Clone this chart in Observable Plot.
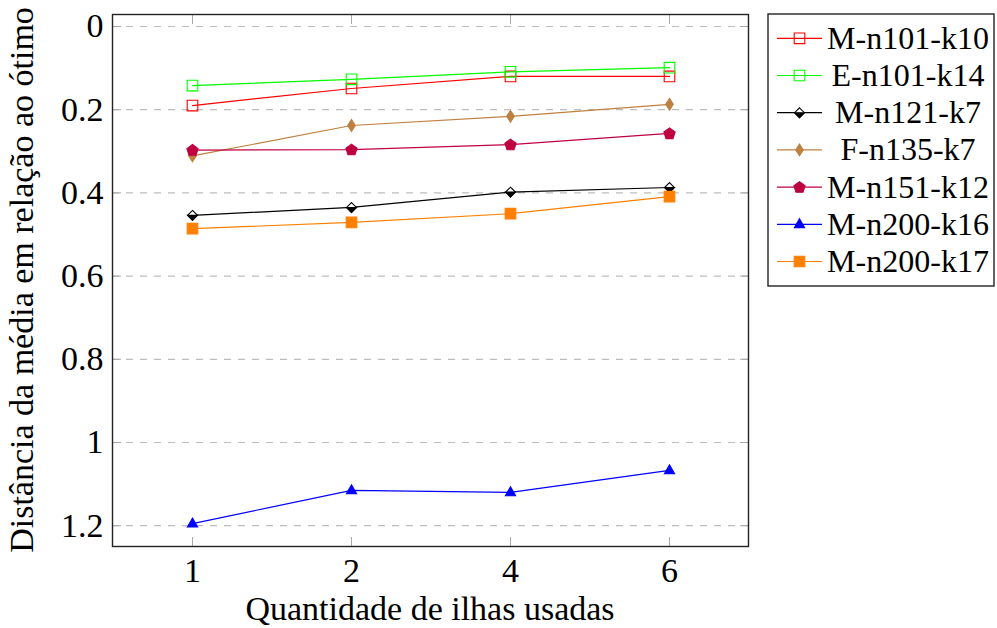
<!DOCTYPE html>
<html>
<head>
<meta charset="utf-8">
<script src="https://cdn.jsdelivr.net/npm/d3@7"></script>
<script src="https://cdn.jsdelivr.net/npm/@observablehq/plot@0.6"></script>
<style>
  html, body { margin: 0; padding: 0; background: #fff; }
  #chart { position: relative; width: 997px; height: 628px; }
  #chart svg, #chart svg text { font-family: "Liberation Serif", "Times New Roman", Times, Tinos, "DejaVu Serif", "Noto Serif", serif !important; }
</style>
</head>
<body>
<div id="chart"></div>
<script>
// ---- data ----
const xLabels = ["1", "2", "4", "6"];
const yTicks = [0, 0.2, 0.4, 0.6, 0.8, 1, 1.2];
const seriesNames = ["M-n101-k10", "E-n101-k14", "M-n121-k7", "F-n135-k7", "M-n151-k12", "M-n200-k16", "M-n200-k17"];
const mn101k10 = [0.190, 0.149, 0.120, 0.120];
const en101k14 = [0.142, 0.127, 0.109, 0.099];
const mn121k7  = [0.454, 0.435, 0.398, 0.387];
const fn135k7  = [0.311, 0.238, 0.216, 0.187];
const mn151k12 = [0.297, 0.296, 0.284, 0.257];
const mn200k16 = [1.195, 1.115, 1.120, 1.067];
const mn200k17 = [0.486, 0.471, 0.450, 0.409];
const xTitle = "Quantidade de ilhas usadas";
const yTitle = "Distância da média em relação ao ótimo";

// ---- styles ----
const FONT = "\"Liberation Serif\", \"Times New Roman\", Times, Tinos, \"DejaVu Serif\", serif";
function poly(pts) {
  return { draw(ctx) { ctx.moveTo(pts[0][0], pts[0][1]); for (let i = 1; i < pts.length; i++) ctx.lineTo(pts[i][0], pts[i][1]); ctx.closePath(); } };
}
const S = 5.3;
const squareSym = poly([[-S, -S], [S, -S], [S, S], [-S, S]]);
const pentSym = poly(d3.range(5).map(k => { const a = (-90 + 72 * k) * Math.PI / 180; return [5.9 * Math.cos(a), 5.9 * Math.sin(a) + 0.4]; }));
const triSym = poly([[0, -5.6], [5.1, 3.3], [-5.1, 3.3]]);
const tallDiamond = poly([[0, -5.9], [3.8, 0], [0, 5.9], [-3.8, 0]]);
const diamondSym = poly([[0, -4.9], [4.9, 0], [0, 4.9], [-4.9, 0]]);
const halfDiamondLow = poly([[-4.9, 0], [4.9, 0], [0, 4.9]]);

const styles = [
  { color: "#ff0000", marks: [{ symbol: squareSym, fill: "none", stroke: "#ff0000" }] },
  { color: "#00ff00", marks: [{ symbol: squareSym, fill: "none", stroke: "#00ff00" }] },
  { color: "#000000", marks: [{ symbol: diamondSym, fill: "#ffffff", stroke: "#000000" }, { symbol: halfDiamondLow, fill: "#000000", stroke: "#000000" }] },
  { color: "#bf8040", marks: [{ symbol: tallDiamond, fill: "#bf8040", stroke: "#bf8040" }] },
  { color: "#bf0040", marks: [{ symbol: pentSym, fill: "#bf0040", stroke: "#bf0040" }] },
  { color: "#0000ff", marks: [{ symbol: triSym, fill: "#0000ff", stroke: "#0000ff" }] },
  { color: "#ff8000", marks: [{ symbol: squareSym, fill: "#ff8000", stroke: "#ff8000" }] }
];
const seriesValues = [mn101k10, en101k14, mn121k7, fn135k7, mn151k12, mn200k16, mn200k17];

const seriesMarks = [];
seriesValues.forEach((vals, i) => {
  const rows = xLabels.map((x, j) => ({ x, y: vals[j] }));
  seriesMarks.push(Plot.line(rows, { x: "x", y: "y", stroke: styles[i].color, strokeWidth: 1.2 }));
  styles[i].marks.forEach(m => {
    seriesMarks.push(Plot.dot(rows, { x: "x", y: "y", r: 5, symbol: m.symbol, fill: m.fill, stroke: m.stroke, strokeWidth: 1.1 }));
  });
});

const W = 997, H = 628;
const mL = 112, mT = 14, mR = W - 748, mB = H - 546;
// 0 at y=26, 1.2 at y=525.2 -> 416 px per unit
const yMin = -(26 - mT) / 416, yMax = (546 - 26) / 416;

const chart = Plot.plot({
  width: W,
  height: H,
  marginLeft: mL, marginTop: mT, marginRight: mR, marginBottom: mB,
  style: { fontFamily: FONT, fontSize: "34px", background: "#fff", color: "#000", overflow: "visible" },
  x: { type: "point", domain: xLabels, padding: 0.5, label: null },
  y: { domain: [yMin, yMax], reverse: true, label: null },
  marks: [
    Plot.ruleY(yTicks, { stroke: "#bdbdbd", strokeWidth: 1.2, strokeDasharray: "7,7" }),
    Plot.axisX(xLabels, { anchor: "bottom", tickSize: -9, fill: "none", stroke: "#a8a8a8", label: null }),
    Plot.axisX(xLabels, { anchor: "top", tickSize: -9, fill: "none", stroke: "#a8a8a8", label: null }),
    Plot.axisY(yTicks, { anchor: "left", tickSize: -9, fill: "none", stroke: "#a8a8a8", label: null }),
    Plot.axisY(yTicks, { anchor: "right", tickSize: -9, fill: "none", stroke: "#a8a8a8", label: null }),
    Plot.axisX(xLabels, { anchor: "bottom", tickSize: 0, tickPadding: 11, label: null, fontSize: 34 }),
    Plot.axisY(yTicks, { anchor: "left", tickSize: 0, tickPadding: 9, label: null, fontSize: 34, tickFormat: d => String(d) }),
    ...seriesMarks,
    Plot.frame({ stroke: "#222", strokeWidth: 1.4 })
  ]
});

document.getElementById("chart").appendChild(chart);

const svg = d3.select(chart);
// axis titles
svg.append("text")
  .attr("x", 430).attr("y", 620)
  .attr("text-anchor", "middle")
  .attr("font-size", 34).attr("fill", "#000")
  .text(xTitle);
svg.append("text")
  .attr("transform", "translate(33,280) rotate(-90)")
  .attr("text-anchor", "middle")
  .attr("font-size", 34).attr("fill", "#000")
  .text(yTitle);

// legend
const lg = svg.append("g");
lg.append("rect").attr("x", 768).attr("y", 14).attr("width", 226).attr("height", 272)
  .attr("fill", "#fff").attr("stroke", "#222").attr("stroke-width", 1.4);
seriesNames.forEach((name, i) => {
  const cy = 38.3 + 37.2 * i;
  lg.append("line").attr("x1", 777).attr("x2", 822).attr("y1", cy).attr("y2", cy)
    .attr("stroke", styles[i].color).attr("stroke-width", 1.2);
  styles[i].marks.forEach(m => {
    lg.append("path").attr("transform", `translate(799.5,${cy})`)
      .attr("d", d3.symbol(m.symbol)())
      .attr("fill", m.fill).attr("stroke", m.stroke).attr("stroke-width", 1.1);
  });
  lg.append("text").attr("x", 908).attr("y", cy).attr("dy", "0.33em")
    .attr("text-anchor", "middle")
    .attr("font-size", 32).attr("fill", "#000")
    .text(name);
});
</script>
</body>
</html>
